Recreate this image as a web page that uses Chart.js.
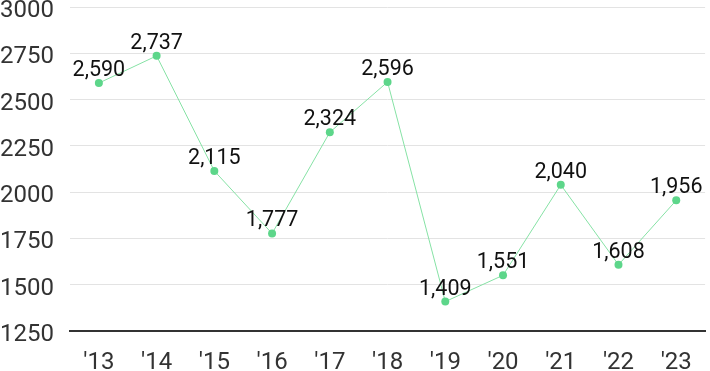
<!DOCTYPE html>
<html>
<head>
<meta charset="utf-8">
<script src="https://cdn.jsdelivr.net/npm/chart.js@4/dist/chart.umd.min.js"></script>
<style>
  html, body { margin: 0; padding: 0; background: #fff; }
</style>
</head>
<body>
<canvas id="chart" width="710" height="371"></canvas>
<script>
// Chart data
const years = ["'13", "'14", "'15", "'16", "'17", "'18", "'19", "'20", "'21", "'22", "'23"];
const values = [2590, 2737, 2115, 1777, 2324, 2596, 1409, 1551, 2040, 1608, 1956];
const yMin = 1250;
const yMax = 3000;
const yStep = 250;

const fontFamily = "Roboto, 'Noto Sans', sans-serif";

// Draw value labels above each point
const valueLabels = {
  id: 'valueLabels',
  afterDatasetsDraw(chart) {
    const ctx = chart.ctx;
    const meta = chart.getDatasetMeta(0);
    ctx.save();
    ctx.font = '21.5px ' + fontFamily;
    ctx.fillStyle = '#111111';
    ctx.textAlign = 'center';
    ctx.textBaseline = 'alphabetic';
    meta.data.forEach((pt, i) => {
      ctx.fillText(values[i].toLocaleString('en-US'), pt.x, pt.y - 7);
    });
    ctx.restore();
  }
};

new Chart(document.getElementById('chart'), {
  type: 'line',
  data: {
    labels: years,
    datasets: [{
      data: values,
      borderColor: '#86e2a5',
      borderWidth: 1,
      backgroundColor: '#5dd68a',
      pointBackgroundColor: '#5dd68a',
      pointBorderWidth: 0,
      pointRadius: 4,
      tension: 0
    }]
  },
  options: {
    responsive: false,
    animation: false,
    layout: { padding: { top: 0, right: 0, left: 0, bottom: 0 } },
    plugins: {
      legend: { display: false },
      tooltip: { enabled: false }
    },
    scales: {
      x: {
        offset: true,
        afterFit(scale) { scale.height = 40; },
        grid: { display: false, drawTicks: false },
        border: { display: true, color: '#333333', width: 2 },
        ticks: {
          color: '#333333',
          padding: 18,
          maxRotation: 0,
          font: { family: fontFamily, size: 24 }
        }
      },
      y: {
        min: yMin,
        max: yMax,
        afterFit(scale) { scale.width = 70; },
        grid: { color: '#e3e3e3', drawTicks: false },
        border: { display: false },
        ticks: {
          stepSize: yStep,
          color: '#333333',
          padding: 0,
          labelOffset: 4,
          crossAlign: 'far',
          font: { family: fontFamily, size: 24, lineHeight: 0.6 },
          callback: (v) => String(v)
        }
      }
    }
  },
  plugins: [valueLabels]
});
</script>
</body>
</html>
